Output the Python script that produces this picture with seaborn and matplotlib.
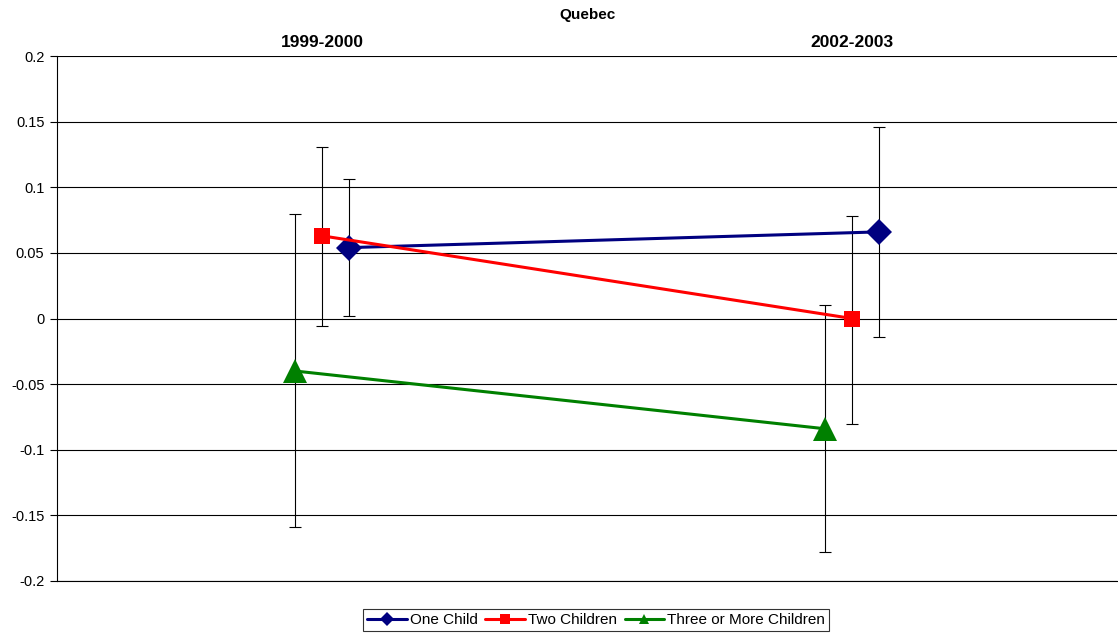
import numpy as np
import pandas as pd
import matplotlib
matplotlib.use("Agg")
import matplotlib.pyplot as plt
import seaborn as sns

periods = ["1999-2000", "2002-2003"]
groups = ["One Child", "Two Children", "Three or More Children"]

one_child = [0.054, 0.066]
one_child_lo = [0.002, -0.014]
one_child_hi = [0.106, 0.146]

two_children = [0.063, 0.0]
two_children_lo = [-0.006, -0.080]
two_children_hi = [0.131, 0.078]

three_more = [-0.040, -0.084]
three_more_lo = [-0.159, -0.178]
three_more_hi = [0.080, 0.010]

colors = {"One Child": "#000080", "Two Children": "#FF0000", "Three or More Children": "#008000"}
markers = {"One Child": "D", "Two Children": "s", "Three or More Children": "^"}
sizes = {"One Child": 13, "Two Children": 11.5, "Three or More Children": 17}
offsets = {"One Child": 0.051, "Two Children": 0.0, "Three or More Children": -0.051}


def main():
    vals = [one_child, two_children, three_more]
    los = [one_child_lo, two_children_lo, three_more_lo]
    his = [one_child_hi, two_children_hi, three_more_hi]

    rows = []
    for g, v, lo, hi in zip(groups, vals, los, his):
        for i, p in enumerate(periods):
            rows.append({"group": g, "period": p, "pos": i + offsets[g],
                         "value": v[i], "lo": lo[i], "hi": hi[i]})
    df = pd.DataFrame(rows)

    sns.set_style("white", {"text.color": "black", "axes.labelcolor": "black",
                            "ytick.color": "black", "xtick.color": "black"})
    plt.rcParams["font.family"] = ["Liberation Sans", "DejaVu Sans"]

    fig = plt.figure(figsize=(11.18, 6.35), dpi=100)
    ax = fig.add_axes([57 / 1118, 1 - 581 / 635, 1 - 58 / 1118, 525 / 635])

    for g in groups:
        d = df[df["group"] == g]
        ax.errorbar(d["pos"], d["value"],
                    yerr=[d["value"] - d["lo"], d["hi"] - d["value"]],
                    fmt="none", ecolor="black", elinewidth=0.8, capsize=4,
                    capthick=0.8, zorder=3)

    for g in groups:
        d = df[df["group"] == g]
        sns.lineplot(data=d, x="pos", y="value", color=colors[g], marker=markers[g],
                     markersize=sizes[g], linewidth=2.2, markeredgewidth=0,
                     ax=ax, legend=False, zorder=4, sort=False, estimator=None)

    ax.set_xlim(-0.5, 1.5)
    ax.set_ylim(-0.2, 0.2)
    ax.set_yticks(np.arange(-0.2, 0.201, 0.05))
    ax.set_yticklabels(["-0.2", "-0.15", "-0.1", "-0.05", "0", "0.05", "0.1", "0.15", "0.2"])
    ax.yaxis.grid(True, color="black", linewidth=0.8)
    ax.tick_params(axis="y", left=True, length=5, width=0.8, labelsize=10.5, pad=4)

    ax.xaxis.tick_top()
    ax.set_xticks(range(len(periods)))
    ax.set_xticklabels(periods, fontsize=12.5, fontweight="bold")
    ax.tick_params(axis="x", top=False, length=0, pad=4)
    ax.set_xlabel("")
    ax.set_ylabel("")

    for side in ["right", "top"]:
        ax.spines[side].set_visible(False)
    for side in ["left", "bottom"]:
        ax.spines[side].set_color("black")
        ax.spines[side].set_linewidth(0.8)

    fig.text(0.5 * (57 + 1118) / 1118, 1 - 15 / 635, "Quebec", ha="center",
             va="center", fontsize=11, fontweight="bold")

    handles = [plt.Line2D([], [], color=colors[g], marker=markers[g], markersize=7,
                          linewidth=2.2, markeredgewidth=0) for g in groups]
    leg = fig.legend(handles, groups, loc="center", ncol=3,
                     bbox_to_anchor=(596 / 1118, 1 - 620 / 635), fontsize=11,
                     frameon=True, fancybox=False, edgecolor="black",
                     handlelength=2.6, handletextpad=0.2, columnspacing=0.5,
                     borderpad=0.25, borderaxespad=0)
    leg.get_frame().set_linewidth(0.8)

    fig.savefig("out.png", dpi=100)
    plt.close(fig)


if __name__ == "__main__":
    main()
